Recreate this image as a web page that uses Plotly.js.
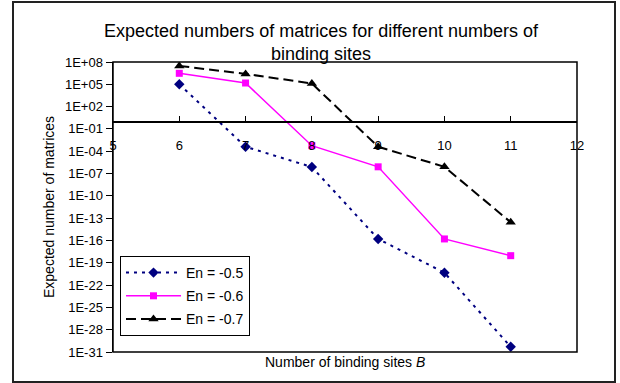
<!DOCTYPE html>
<html>
<head>
<meta charset="utf-8">
<script src="https://cdn.plot.ly/plotly-3.0.1.min.js"></script>
<style>
  html, body { margin: 0; padding: 0; background: #fff; }
  #chart { width: 620px; height: 383px; }
</style>
</head>
<body>
<div id="chart"></div>
<script>
// ---- data ----
var bindingSites = [6, 7, 8, 9, 10, 11];
var seriesNames = ['En = -0.5', 'En = -0.6', 'En = -0.7'];
var en05 = [1e5, 4e-4, 7.5e-7, 1.6e-16, 4.6e-21, 5e-31];
var en06 = [3e6, 1.5e5, 5.6e-4, 8e-7, 1.6e-16, 9e-19];
var en07 = [3e7, 2.5e6, 1.3e5, 4e-4, 8e-7, 2.8e-14];
var yExponents = [8, 5, 2, -1, -4, -7, -10, -13, -16, -19, -22, -25, -28, -31];
var xTicks = [5, 6, 7, 8, 9, 10, 11, 12];

var FONT = '"Liberation Sans Narrow", "Arial Narrow", "Liberation Sans", Arial, sans-serif';

function fmtExp(e) {
  var s = Math.abs(e) < 10 ? '0' + Math.abs(e) : '' + Math.abs(e);
  return '1E' + (e < 0 ? '-' : '+') + s;
}

var yMin = Math.min.apply(null, yExponents);
var yMax = Math.max.apply(null, yExponents);

var traces = [
  { x: bindingSites, y: en05, name: seriesNames[0], mode: 'lines+markers', legendgroup: 'a',
    line: { color: '#000080', width: 2, dash: '3px,5px' },
    marker: { symbol: 'diamond', size: 8, color: '#000080' } },
  { x: bindingSites, y: en06, name: seriesNames[1], mode: 'lines+markers', legendgroup: 'b',
    line: { color: '#FF00FF', width: 1.5, dash: 'solid' },
    marker: { symbol: 'square', size: 7, color: '#FF00FF' } },
  { x: bindingSites, y: en07, name: seriesNames[2], mode: 'lines+markers', legendgroup: 'c',
    line: { color: '#000000', width: 2, dash: '10px,5px' },
    marker: { symbol: 'triangle-up', size: 9, color: '#000000' } }
];

var L = 113, R = 43, T = 62, B = 31, W = 620, H = 383;
var pw = W - L - R, ph = H - T - B;
function px2x(p) { return (p - L) / pw; }
function py2y(p) { return (H - B - p) / ph; }

var layout = {
  width: W, height: H,
  margin: { l: L, r: R, t: T, b: B, pad: 0 },
  paper_bgcolor: '#ffffff', plot_bgcolor: '#ffffff',
  font: { family: FONT, color: '#000', size: 13 },
  showlegend: true,
  title: {
    text: 'Expected numbers of matrices for different numbers of<br>binding sites',
    font: { family: FONT, size: 18, color: '#000' },
    x: 321 / W, xref: 'container', xanchor: 'center',
    y: 1 - 37 / H, yref: 'container', yanchor: 'middle'
  },
  xaxis: {
    type: 'linear', range: [5, 12], tickvals: xTicks,
    anchor: 'free', position: (0 - yMin) / (yMax - yMin),
    showline: true, linecolor: '#000', linewidth: 1.5,
    ticks: 'inside', ticklen: 5, tickcolor: '#000', tickwidth: 1,
    ticklabelstandoff: 11,
    showgrid: false, zeroline: false,
    tickfont: { family: FONT, size: 13, color: '#000' }
  },
  yaxis: {
    type: 'log', range: [yMin, yMax],
    tickvals: yExponents.map(function (e) { return Math.pow(10, e); }),
    ticktext: yExponents.map(fmtExp),
    showline: true, linecolor: '#000', linewidth: 1.5,
    ticks: 'outside', ticklen: 6, tickcolor: '#000', tickwidth: 1,
    showgrid: false, zeroline: false,
    tickfont: { family: FONT, size: 13, color: '#000' }
  },
  legend: {
    x: px2x(120), y: py2y(256), xanchor: 'left', yanchor: 'top',
    bgcolor: '#ffffff', bordercolor: '#000', borderwidth: 1,
    font: { family: FONT, size: 14, color: '#000' },
    traceorder: 'grouped', tracegroupgap: 2, itemwidth: 55
  },
  annotations: [
    { text: 'Number of binding sites <i>B</i>', xref: 'paper', yref: 'paper',
      x: 0.5, y: py2y(362), xanchor: 'center', yanchor: 'middle', showarrow: false,
      font: { family: FONT, size: 14, color: '#000' } },
    { text: 'Expected number of matrices', xref: 'paper', yref: 'paper',
      x: px2x(49), y: 0.5, xanchor: 'center', yanchor: 'middle', textangle: -90, showarrow: false,
      font: { family: FONT, size: 14, color: '#000' } }
  ],
  shapes: [
    { type: 'rect', xref: 'paper', yref: 'paper', x0: 0, x1: 1, y0: 0, y1: 1,
      line: { color: '#000', width: 1.5 }, layer: 'above' },
    { type: 'rect', xref: 'paper', yref: 'paper',
      x0: px2x(13), x1: px2x(615), y0: py2y(382), y1: py2y(2),
      line: { color: '#222', width: 2 }, layer: 'below' }
  ]
};

Plotly.newPlot('chart', traces, layout, { displayModeBar: false, staticPlot: true });
</script>
</body>
</html>
